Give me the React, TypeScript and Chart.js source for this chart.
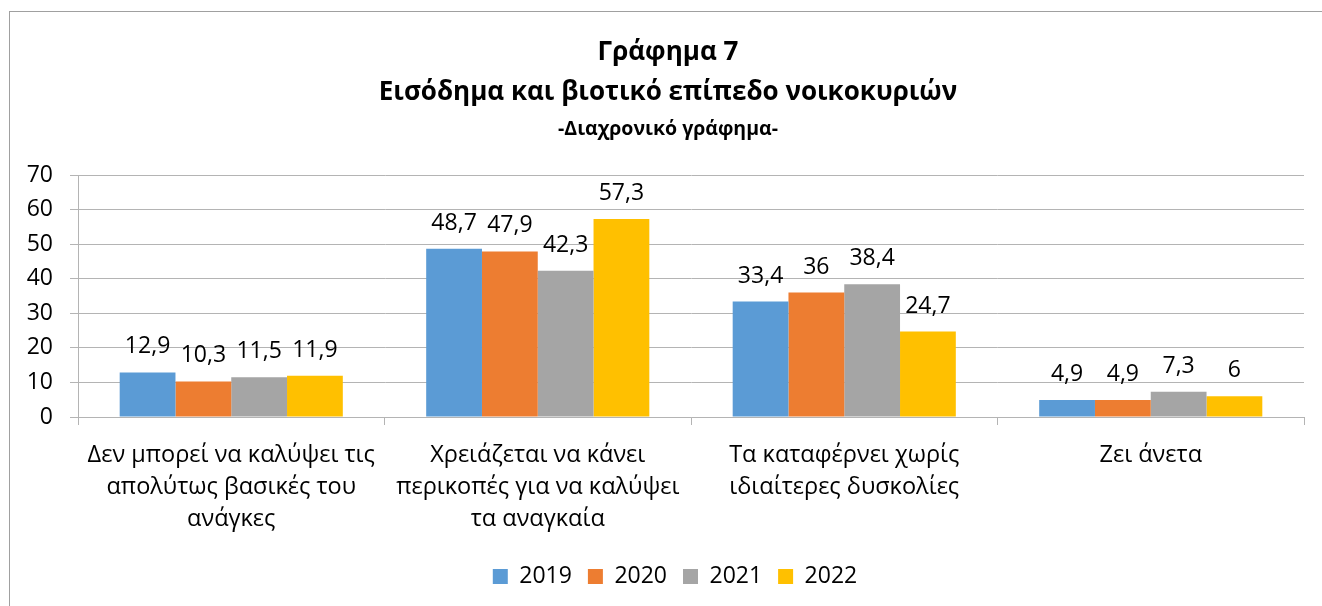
import React, { useEffect, useRef } from "react";
import { Chart, registerables } from "chart.js";

Chart.register(...registerables);

const categories: string[][] = [
  ["Δεν μπορεί να καλύψει τις", "απολύτως βασικές του", "ανάγκες"],
  ["Χρειάζεται να κάνει", "περικοπές για να καλύψει", "τα αναγκαία"],
  ["Τα καταφέρνει χωρίς", "ιδιαίτερες δυσκολίες"],
  ["Ζει άνετα"],
];
const years = ["2019", "2020", "2021", "2022"];
const values2019 = [12.9, 48.7, 33.4, 4.9];
const values2020 = [10.3, 47.9, 36, 4.9];
const values2021 = [11.5, 42.3, 38.4, 7.3];
const values2022 = [11.9, 57.3, 24.7, 6];
const seriesColors = ["#5B9BD5", "#ED7D31", "#A5A5A5", "#FFC000"];
const yMin = 0;
const yMax = 70;
const yStep = 10;
const titleLines = [
  "Γράφημα 7",
  "Εισόδημα και βιοτικό επίπεδο νοικοκυριών",
  "-Διαχρονικό γράφημα-",
];

const FONT = "'Open Sans', 'Noto Sans', sans-serif";

const fmt = (v: number) => String(v).replace(".", ",");

const framePlugin = {
  id: "frame",
  beforeDraw(chart: any) {
    const ctx = chart.ctx;
    ctx.save();
    ctx.fillStyle = "#ffffff";
    ctx.fillRect(0, 0, chart.width, chart.height);
    ctx.strokeStyle = "#a0a0a0";
    ctx.lineWidth = 1;
    ctx.strokeRect(9.5, 11.5, chart.width + 50, chart.height + 50);
    ctx.restore();
  },
};

const legendShiftPlugin = {
  id: "legendShift",
  afterLayout(chart: any) {
    const lg = chart.legend;
    if (lg) {
      lg.left += 23;
      lg.right += 23;
    }
  },
};

const titlePlugin = {
  id: "customTitle",
  afterDraw(chart: any) {
    const ctx = chart.ctx;
    ctx.save();
    ctx.fillStyle = "#000000";
    ctx.textAlign = "center";
    ctx.textBaseline = "alphabetic";
    const cx = 668;
    ctx.font = `bold 26px ${FONT}`;
    ctx.fillText(titleLines[0], cx, 60);
    ctx.fillText(titleLines[1], cx, 100);
    ctx.font = `bold 19.5px ${FONT}`;
    ctx.fillText(titleLines[2], cx, 135);
    ctx.restore();
  },
};

const valueLabelPlugin = {
  id: "valueLabels",
  afterDatasetsDraw(chart: any) {
    const ctx = chart.ctx;
    ctx.save();
    ctx.fillStyle = "#000000";
    ctx.font = `23px ${FONT}`;
    ctx.textAlign = "center";
    ctx.textBaseline = "alphabetic";
    chart.data.datasets.forEach((ds: any, di: number) => {
      const meta = chart.getDatasetMeta(di);
      meta.data.forEach((el: any, i: number) => {
        const v = ds.data[i];
        ctx.fillText(fmt(v), el.x, el.y - 19);
      });
    });
    ctx.restore();
  },
};

export default function App() {
  const canvasRef = useRef<HTMLCanvasElement | null>(null);

  useEffect(() => {
    if (!canvasRef.current) return;
    const allValues = [values2019, values2020, values2021, values2022];
    const chart = new Chart(canvasRef.current, {
      type: "bar",
      data: {
        labels: categories,
        datasets: years.map((y, i) => ({
          label: y,
          data: allValues[i],
          backgroundColor: seriesColors[i],
          borderWidth: 0,
          barPercentage: 1,
          categoryPercentage: 0.728,
        })),
      },
      options: {
        responsive: false,
        animation: false,
        devicePixelRatio: 1,
        layout: { padding: { left: 0, right: 18, top: 175, bottom: 8 } },
        scales: {
          y: {
            min: yMin,
            max: yMax,
            ticks: {
              stepSize: yStep,
              color: "#000000",
              font: { family: FONT, size: 23 },
              padding: 17,
            },
            grid: { color: "#b4b4b4", lineWidth: 1, tickLength: 8 },
            border: { color: "#b4b4b4" },
            afterFit: (s: any) => {
              s.width = 78;
            },
          },
          x: {
            ticks: {
              color: "#000000",
              font: { family: FONT, size: 23.5, lineHeight: 1.37 },
              padding: 14,
              maxRotation: 0,
              autoSkip: false,
            },
            grid: {
              drawOnChartArea: false,
              color: "#b4b4b4",
              tickLength: 8,
            },
            border: { color: "#b4b4b4" },
            afterFit: (s: any) => {
              s.height = 132;
            },
          },
        },
        plugins: {
          title: { display: false },
          tooltip: { enabled: false },
          legend: {
            display: true,
            position: "bottom",
            labels: {
              boxWidth: 15,
              boxHeight: 15,
              padding: 16,
              color: "#000000",
              font: { family: FONT, size: 23 },
            },
          },
        },
      },
      plugins: [framePlugin, legendShiftPlugin, titlePlugin, valueLabelPlugin],
    });
    return () => chart.destroy();
  }, []);

  return (
    <div style={{ position: "fixed", left: 0, top: 0, width: 1322, height: 606, overflow: "hidden" }}>
      <canvas ref={canvasRef} width={1322} height={606} style={{ display: "block" }} />
    </div>
  );
}
